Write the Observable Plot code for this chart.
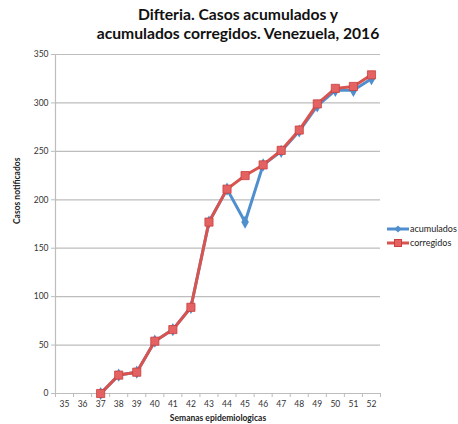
<!DOCTYPE html>
<html><head><meta charset="utf-8">
<script src="https://cdn.jsdelivr.net/npm/d3@7"></script>
<script src="https://cdn.jsdelivr.net/npm/@observablehq/plot@0.6"></script>
<style>
body{margin:0;background:#fff;font-family:Lato,"Open Sans",sans-serif;}
#wrap{position:relative;width:458px;height:424px;overflow:hidden;}
#title{position:absolute;left:0;top:5px;width:476px;text-align:center;font-weight:bold;font-size:15.7px;line-height:19px;color:#111;}
#chart{position:absolute;left:0;top:46px;}
.leg{position:absolute;font-size:9px;color:#222;display:flex;align-items:center;white-space:nowrap;}
.leg svg{margin-right:1px;}
</style></head><body>
<div id="wrap">
<div id="title">Difteria. Casos acumulados y<br>acumulados corregidos. Venezuela, 2016</div>
<div id="chart"></div>
<div class="leg" style="left:387px;top:223px;"><svg width="22" height="10"><line x1="0" y1="5" x2="22" y2="5" stroke="#4f8fce" stroke-width="3"/><path d="M11 1.5L14.5 5L11 8.5L7.5 5Z" fill="#4f8fce"/></svg>acumulados</div>
<div class="leg" style="left:387px;top:237px;"><svg width="22" height="10"><line x1="0" y1="5" x2="22" y2="5" stroke="#d9534f" stroke-width="3"/><rect x="7.5" y="1.5" width="7" height="7" fill="#e46262" stroke="#c9403d"/></svg>corregidos</div>
</div>
<script>
const semanas = [35,36,37,38,39,40,41,42,43,44,45,46,47,48,49,50,51,52];
const acumulados = [null,null,0,19,22,54,66,89,177,211,177,236,250,271,297,313,313,325];
const corregidos = [null,null,0,19,22,54,66,89,177,211,225,236,251,272,299,315,317,329];
const yTicks = [0,50,100,150,200,250,300,350];

const acum = semanas.map((s,i)=>({s, v: acumulados[i]})).filter(d=>d.v!=null);
const corr = semanas.map((s,i)=>({s, v: corregidos[i]})).filter(d=>d.v!=null);
const bounds = [...semanas.map(s=>s-0.5), semanas[semanas.length-1]+0.5];

const plot = Plot.plot({
  width: 458, height: 378,
  marginTop: 8, marginBottom: 31, marginLeft: 55, marginRight: 78,
  style: {fontFamily: "Lato, 'Open Sans', sans-serif", fontSize: "8.5px", color: "#333", background: "transparent"},
  x: {domain: [bounds[0], bounds[bounds.length-1]]},
  y: {domain: [0, 350]},
  marks: [
    Plot.gridY(yTicks, {stroke: "#bdbdbd", strokeOpacity: 1, strokeWidth: 1.2}),
    Plot.ruleX([bounds[0]], {stroke: "#bdbdbd", strokeWidth: 1.2}),
    Plot.ruleY([0], {stroke: "#bdbdbd", strokeWidth: 1.2}),
    Plot.axisY({ticks: yTicks, tickSize: 4, tickPadding: 3, stroke: "#bdbdbd", label: null}),
    Plot.axisX({ticks: semanas, tickSize: 0, tickPadding: 7, tickFormat: d => String(d), label: null}),
    Plot.axisX({ticks: bounds, tickSize: 4, tickFormat: () => "", stroke: "#bdbdbd", label: null}),
    Plot.text(["Semanas epidemiologicas"], {frameAnchor: "bottom", dy: 27, fontWeight: "bold", fontSize: 8.5, fill: "#222"}),
    Plot.text(["Casos notificados"], {frameAnchor: "left", dx: -38, rotate: -90, fontWeight: "bold", fontSize: 8.5, fill: "#222"}),
    Plot.line(acum, {x: "s", y: "v", stroke: "#4f8fce", strokeWidth: 3}),
    Plot.dot(acum, {x: "s", y: "v", symbol: "diamond", r: 4, fill: "#4f8fce"}),
    Plot.line(corr, {x: "s", y: "v", stroke: "#d9534f", strokeWidth: 3}),
    Plot.dot(corr, {x: "s", y: "v", symbol: "square", r: 4.6, fill: "#e46262", stroke: "#c9403d", strokeWidth: 0.8})
  ]
});
document.getElementById("chart").appendChild(plot);
</script>
</body></html>
